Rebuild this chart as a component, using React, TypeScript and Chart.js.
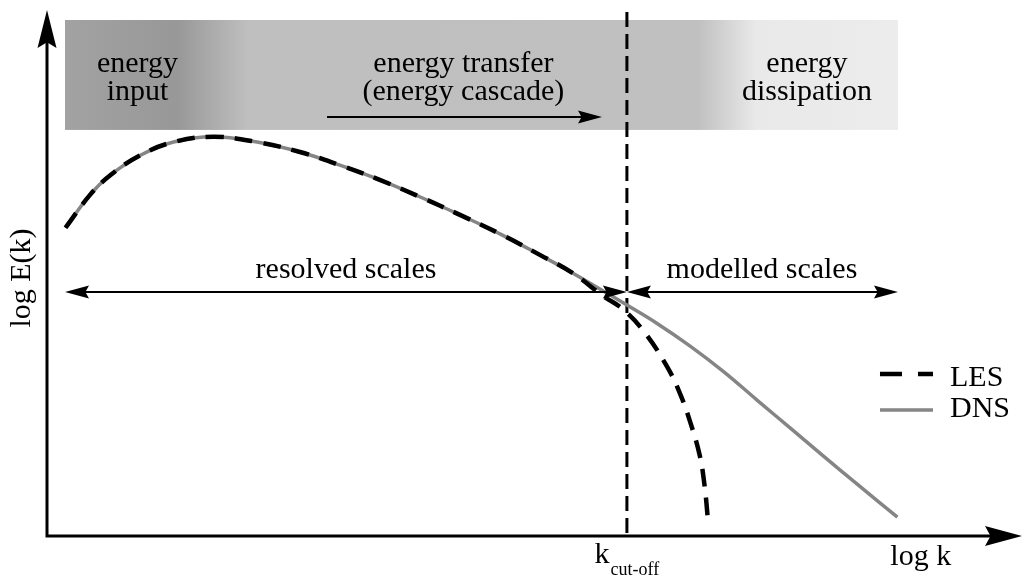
import React, { useEffect, useRef } from 'react';
import { Chart, registerables } from 'chart.js';

Chart.register(...registerables);

// ---- data (log k, log E(k)) in arbitrary schematic units ----
const seriesNames = ['LES', 'DNS'];
const sharedK = [0.19, 0.44, 0.65, 0.96, 1.3, 1.71, 2.16, 2.6, 3.01, 3.42, 3.83, 4.25, 4.66, 5.07, 5.41];
const sharedE = [5.86, 6.48, 6.86, 7.24, 7.49, 7.59, 7.49, 7.3, 7.05, 6.77, 6.45, 6.1, 5.74, 5.34, 4.99];
const dnsTailK = [5.76, 5.96, 6.27, 6.61, 6.95, 7.3, 7.64, 7.98, 8.33, 8.74];
const dnsTailE = [4.61, 4.39, 4.04, 3.61, 3.13, 2.58, 2.05, 1.52, 0.98, 0.36];
const lesTailK = [5.71, 5.92, 6.13, 6.37, 6.51, 6.61, 6.71, 6.76, 6.79];
const lesTailE = [4.57, 4.31, 3.9, 3.23, 2.69, 2.17, 1.52, 0.93, 0.36];

const kCutoff = 5.96;
const kMin = 0;
const kMax = 10;
const eMin = 0;
const eMax = 10;

// ---- annotation texts ----
const bandTexts = [
  ['energy', 'input'],
  ['energy transfer', '(energy cascade)'],
  ['energy', 'dissipation'],
];
const scaleTexts = ['resolved scales', 'modelled scales'];
const xAxisTitle = 'log k';
const yAxisTitle = 'log E(k)';
const cutoffMain = 'k';
const cutoffSub = 'cut-off';

// ---- layout (in data units), kept apart from data ----
const LAYOUT = {
  bandK0: 0.185,
  bandK1: 8.746,
  bandTop: 9.81,
  bandBottom: 7.72,
  bandTextK: [0.93, 4.28, 7.81],
  bandLine1: 8.82,
  bandLine2: 8.29,
  cascadeY: 7.966,
  cascadeK0: 2.878,
  cascadeK1: 5.704,
  arrowY: 4.639,
  scaleTextK: [3.073, 7.348],
  scaleTextY: 4.905,
  legendK0: 8.561,
  legendK1: 9.106,
  legendTextK: 9.281,
  legendLineY: [3.08, 2.395],
  legendTextY: [2.85, 2.262],
  xTitleK: 8.98,
  xTitleY: -0.55,
  cutoffTextY: -0.513,
  yTitleK: -0.175,
  yTitleY: 4.905,
};

const FONT = '"Liberation Serif", "DejaVu Serif", serif';

function toPts(ks: number[], es: number[]) {
  return ks.map((k, i) => ({ x: k, y: es[i] }));
}

function arrowHead(ctx: CanvasRenderingContext2D, tx: number, ty: number, dx: number, dy: number, len: number, half: number) {
  const bx = tx - dx * len;
  const by = ty - dy * len;
  const px = -dy;
  const py = dx;
  ctx.beginPath();
  ctx.moveTo(tx, ty);
  ctx.lineTo(bx + px * half, by + py * half);
  ctx.lineTo(bx + dx * len * 0.15, by + dy * len * 0.15);
  ctx.lineTo(bx - px * half, by - py * half);
  ctx.closePath();
  ctx.fill();
}

function hArrow(ctx: CanvasRenderingContext2D, x0: number, x1: number, y: number, left: boolean, right: boolean) {
  const len = 24;
  ctx.lineWidth = 2;
  ctx.beginPath();
  ctx.moveTo(left ? x0 + len * 0.8 : x0, y);
  ctx.lineTo(right ? x1 - len * 0.8 : x1, y);
  ctx.stroke();
  if (left) arrowHead(ctx, x0, y, -1, 0, len, 6.5);
  if (right) arrowHead(ctx, x1, y, 1, 0, len, 6.5);
}

const annotPlugin = {
  id: 'annot',
  beforeDatasetsDraw(chart: any) {
    const { ctx, chartArea, scales } = chart;
    const x = scales.x;
    const y = scales.y;
    const L = LAYOUT;
    ctx.save();
    // gradient band
    const bx0 = x.getPixelForValue(L.bandK0);
    const bx1 = x.getPixelForValue(L.bandK1);
    const by0 = y.getPixelForValue(L.bandTop);
    const by1 = y.getPixelForValue(L.bandBottom);
    const g = ctx.createLinearGradient(bx0, 0, bx1, 0);
    g.addColorStop(0, '#a2a2a2');
    g.addColorStop(0.135, '#989898');
    g.addColorStop(0.22, '#bfbfbf');
    g.addColorStop(0.76, '#c0c0c0');
    g.addColorStop(0.83, '#e9e9e9');
    g.addColorStop(1, '#ececec');
    ctx.fillStyle = g;
    ctx.fillRect(bx0, by0, bx1 - bx0, by1 - by0);

    // band texts
    ctx.fillStyle = '#000';
    ctx.font = `30px ${FONT}`;
    ctx.textAlign = 'center';
    ctx.textBaseline = 'alphabetic';
    bandTexts.forEach((lines, i) => {
      const cx = x.getPixelForValue(L.bandTextK[i]);
      ctx.fillText(lines[0], cx, y.getPixelForValue(L.bandLine1));
      ctx.fillText(lines[1], cx, y.getPixelForValue(L.bandLine2));
    });

    // cascade arrow
    ctx.strokeStyle = '#000';
    hArrow(ctx, x.getPixelForValue(L.cascadeK0), x.getPixelForValue(L.cascadeK1), y.getPixelForValue(L.cascadeY), false, true);

    // cut-off line
    const cx = x.getPixelForValue(kCutoff);
    ctx.lineWidth = 3;
    ctx.setLineDash([15, 7]);
    ctx.beginPath();
    ctx.moveTo(cx, chartArea.top + 2);
    ctx.lineTo(cx, chartArea.bottom);
    ctx.stroke();
    ctx.setLineDash([]);
    ctx.restore();
  },
  afterDatasetsDraw(chart: any) {
    const { ctx, chartArea, scales } = chart;
    const x = scales.x;
    const y = scales.y;
    const L = LAYOUT;
    ctx.save();
    ctx.fillStyle = '#000';
    ctx.strokeStyle = '#000';

    // resolved / modelled arrows
    const ay = y.getPixelForValue(L.arrowY);
    const xc = x.getPixelForValue(kCutoff);
    hArrow(ctx, x.getPixelForValue(L.bandK0), xc, ay, true, true);
    hArrow(ctx, xc, x.getPixelForValue(L.bandK1), ay, true, true);

    ctx.font = `30px ${FONT}`;
    ctx.textAlign = 'center';
    ctx.textBaseline = 'alphabetic';
    scaleTexts.forEach((t, i) => {
      ctx.fillText(t, x.getPixelForValue(L.scaleTextK[i]), y.getPixelForValue(L.scaleTextY));
    });

    // legend
    const dsets = chart.data.datasets;
    dsets.forEach((ds: any, i: number) => {
      const ly = y.getPixelForValue(L.legendLineY[i]);
      ctx.strokeStyle = ds.borderColor;
      ctx.lineWidth = ds.borderWidth;
      ctx.setLineDash(ds.borderDash && ds.borderDash.length ? [22, 16] : []);
      ctx.beginPath();
      ctx.moveTo(x.getPixelForValue(L.legendK0), ly);
      ctx.lineTo(x.getPixelForValue(L.legendK1), ly);
      ctx.stroke();
      ctx.setLineDash([]);
      ctx.fillStyle = '#000';
      ctx.textAlign = 'left';
      ctx.fillText(ds.label, x.getPixelForValue(L.legendTextK), y.getPixelForValue(L.legendTextY[i]));
    });

    // axes with arrows
    ctx.strokeStyle = '#000';
    ctx.fillStyle = '#000';
    ctx.lineWidth = 3;
    const ox = chartArea.left;
    const oy = chartArea.bottom;
    ctx.beginPath();
    ctx.moveTo(ox, oy + 1.5);
    ctx.lineTo(ox, chartArea.top + 30);
    ctx.moveTo(ox - 1.5, oy);
    ctx.lineTo(chartArea.right - 25, oy);
    ctx.stroke();
    arrowHead(ctx, ox, chartArea.top, 0, -1, 38, 9.5);
    arrowHead(ctx, chartArea.right + 2, oy, 1, 0, 37, 10);

    // axis titles
    ctx.textAlign = 'center';
    ctx.font = `30px ${FONT}`;
    ctx.fillText(xAxisTitle, x.getPixelForValue(L.xTitleK), y.getPixelForValue(L.xTitleY));

    // k_cut-off
    const by = y.getPixelForValue(L.cutoffTextY);
    ctx.font = `30px ${FONT}`;
    const wk = ctx.measureText(cutoffMain).width;
    ctx.font = `18px ${FONT}`;
    const ws = ctx.measureText(cutoffSub).width;
    const start = xc - (wk + 1 + ws) / 2;
    ctx.textAlign = 'left';
    ctx.font = `30px ${FONT}`;
    ctx.fillText(cutoffMain, start, by);
    ctx.font = `18px ${FONT}`;
    ctx.fillText(cutoffSub, start + wk + 1, by + 12);

    // y title (rotated)
    ctx.save();
    ctx.translate(x.getPixelForValue(L.yTitleK), y.getPixelForValue(L.yTitleY));
    ctx.rotate(-Math.PI / 2);
    ctx.textAlign = 'center';
    ctx.font = `30px ${FONT}`;
    ctx.fillText(yAxisTitle, 0, 0);
    ctx.restore();

    ctx.restore();
  },
};

export default function App() {
  const ref = useRef<HTMLCanvasElement | null>(null);
  useEffect(() => {
    if (!ref.current) return;
    const chart = new Chart(ref.current, {
      type: 'line',
      data: {
        datasets: [
          {
            label: seriesNames[0],
            data: [...toPts(sharedK, sharedE), ...toPts(lesTailK, lesTailE)],
            borderColor: '#000000',
            borderWidth: 4.5,
            borderDash: [18, 11],
            borderCapStyle: 'butt',
            pointRadius: 0,
            tension: 0.4,
            fill: false,
            order: 0,
          },
          {
            label: seriesNames[1],
            data: [...toPts(sharedK, sharedE), ...toPts(dnsTailK, dnsTailE)],
            borderColor: '#858585',
            borderWidth: 3.5,
            borderDash: [],
            pointRadius: 0,
            tension: 0.4,
            fill: false,
            order: 1,
          },
        ],
      },
      options: {
        responsive: false,
        animation: false,
        layout: { padding: { left: 47, top: 10, right: 3, bottom: 49 } },
        scales: {
          x: { type: 'linear', min: kMin, max: kMax, display: false },
          y: { type: 'linear', min: eMin, max: eMax, display: false },
        },
        plugins: {
          legend: { display: false },
          tooltip: { enabled: false },
        },
      },
      plugins: [annotPlugin],
    } as any);
    return () => chart.destroy();
  }, []);
  return (
    <div style={{ position: 'absolute', left: 0, top: 0, width: 1023, height: 585, background: '#fff' }}>
      <canvas ref={ref} width={1023} height={585} style={{ display: 'block' }} />
    </div>
  );
}
